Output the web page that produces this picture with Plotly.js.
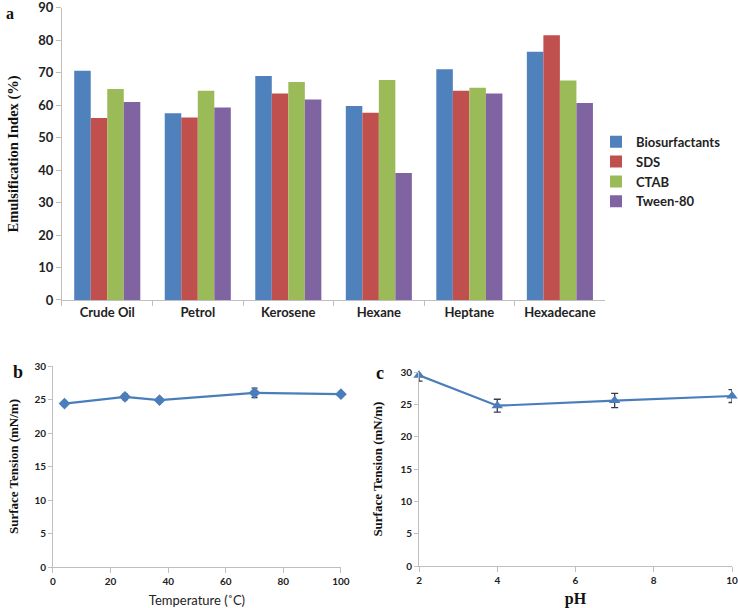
<!DOCTYPE html>
<html>
<head>
<meta charset="utf-8">
<script src="https://cdn.plot.ly/plotly-3.0.1.min.js"></script>
<style>html,body{margin:0;padding:0;background:#fff;}#chart{width:738px;height:608px;}</style>
</head>
<body>
<div id="chart"></div>
<script>
// ---- Data ----
const categories = ["Crude Oil", "Petrol", "Kerosene", "Hexane", "Heptane", "Hexadecane"];
const seriesNames = ["Biosurfactants", "SDS", "CTAB", "Tween-80"];
const biosurfactants = [70.6, 57.5, 69.0, 59.8, 71.1, 76.5];
const sds = [56.1, 56.2, 63.6, 57.7, 64.5, 81.6];
const ctab = [65.0, 64.5, 67.2, 67.8, 65.4, 67.6];
const tween80 = [61.0, 59.3, 61.8, 39.1, 63.6, 60.7];

const temperature = [4, 25, 37, 70, 100];
const tensionTemp = [24.4, 25.4, 24.9, 26.0, 25.8];
const tensionTempErr = [0.3, 0.4, 0.3, 0.7, 0.3];

const pH = [2, 4, 7, 10];
const tensionPH = [29.5, 24.8, 25.6, 26.3];
const tensionPHErr = [0.9, 1.0, 1.1, 1.0];

const barColors = ["#4F81BD", "#C0504D", "#9BBB59", "#8064A2"];
const lineColor = "#4A7EBB";
const sans = "Lato, 'Liberation Sans', sans-serif";
const serif = "'Liberation Serif', 'DejaVu Serif', serif";
const axisGray = "#bfbfbf";

const barSeries = [biosurfactants, sds, ctab, tween80];
const traces = barSeries.map((vals, i) => ({
  type: "bar", x: categories, y: vals, name: seriesNames[i],
  marker: {color: barColors[i]}, xaxis: "x", yaxis: "y"
}));

traces.push({
  type: "scatter", mode: "lines+markers", x: temperature, y: tensionTemp,
  error_y: {type: "data", array: tensionTempErr, visible: true, color: "#3a3a4a", thickness: 1.3, width: 3},
  line: {color: lineColor, width: 2.2}, marker: {symbol: "diamond", size: 9, color: lineColor},
  xaxis: "x2", yaxis: "y2", showlegend: false, cliponaxis: false
});
traces.push({
  type: "scatter", mode: "lines+markers", x: pH, y: tensionPH,
  error_y: {type: "data", array: tensionPHErr, visible: true, color: "#3a3a4a", thickness: 1.3, width: 3.5},
  line: {color: lineColor, width: 2.2}, marker: {symbol: "triangle-up", size: 10, color: lineColor},
  xaxis: "x3", yaxis: "y3", showlegend: false, cliponaxis: false
});

const tickFontBig = {family: sans, size: 13, color: "#222", weight: "bold"};
const tickFontSmall = {family: sans, size: 10, color: "#222", weight: "bold"};

const layout = {
  width: 738, height: 608,
  margin: {l: 0, r: 0, t: 0, b: 0},
  paper_bgcolor: "#fff", plot_bgcolor: "#fff",
  barmode: "group", bargap: 0.27, bargroupgap: 0,
  showlegend: true,
  legend: {x: 0.8076, y: 0.7916, xanchor: "left", yanchor: "top",
    font: {family: sans, size: 13, color: "#222", weight: "bold"},
    itemwidth: 30, tracegroupgap: 0, bgcolor: "rgba(0,0,0,0)"},
  xaxis: {domain: [0.084, 0.820], anchor: "y", range: [-0.5, 5.5], showline: true, linecolor: axisGray, linewidth: 1,
    ticks: "outside", tickson: "boundaries", ticklen: 5, tickcolor: axisGray,
    tickfont: tickFontBig, showgrid: false, zeroline: false, fixedrange: true},
  yaxis: {domain: [0.5066, 0.987], anchor: "x", range: [0, 90], dtick: 10, showline: true, linecolor: axisGray, linewidth: 1,
    ticks: "outside", ticklen: 5, tickcolor: axisGray, tickfont: tickFontBig, showgrid: false, zeroline: false,
    ticklabeloverflow: "allow",
    title: {text: "Emulsification Index (%)", font: {family: serif, size: 14.5, color: "#111", weight: "bold"}, standoff: 16}},
  xaxis2: {domain: [0.0718, 0.462], anchor: "y2", range: [0, 100], dtick: 20, showline: true, linecolor: axisGray,
    ticks: "outside", ticklen: 5, tickcolor: axisGray, tickfont: tickFontSmall, showgrid: false, zeroline: false,
    title: {text: "Temperature (˚C)", font: {family: sans, size: 13, color: "#222"}, standoff: 10}},
  yaxis2: {domain: [0.0674, 0.398], anchor: "x2", range: [0, 30], dtick: 5, showline: true, linecolor: axisGray,
    ticks: "outside", ticklen: 4, tickcolor: axisGray, tickfont: tickFontSmall, showgrid: false, zeroline: false,
    title: {text: "Surface Tension (mN/m)", font: {family: serif, size: 13, color: "#111", weight: "bold"}, standoff: 12}},
  xaxis3: {domain: [0.5678, 0.9919], anchor: "y3", range: [2, 10], dtick: 2, showline: true, linecolor: axisGray,
    ticks: "outside", ticklen: 5, tickcolor: axisGray, tickfont: tickFontSmall, showgrid: false, zeroline: false,
    ticklabeloverflow: "allow",
    title: {text: "pH", font: {family: serif, size: 16, color: "#111", weight: "bold"}, standoff: 8}},
  yaxis3: {domain: [0.069, 0.388], anchor: "x3", range: [0, 30], dtick: 5, showline: true, linecolor: axisGray,
    ticks: "outside", ticklen: 4, tickcolor: axisGray, tickfont: tickFontSmall, showgrid: false, zeroline: false,
    title: {text: "Surface Tension (mN/m)", font: {family: serif, size: 13, color: "#111", weight: "bold"}, standoff: 14}},
  annotations: [
    {text: "a", x: 4 / 738, y: 1 - 3 / 608, xref: "paper", yref: "paper", xanchor: "left", yanchor: "top",
      showarrow: false, font: {family: serif, size: 16, color: "#111", weight: "bold"}},
    {text: "b", x: 11 / 738, y: 1 - 360 / 608, xref: "paper", yref: "paper", xanchor: "left", yanchor: "top",
      showarrow: false, font: {family: serif, size: 18, color: "#111", weight: "bold"}},
    {text: "c", x: 374 / 738, y: 1 - 361 / 608, xref: "paper", yref: "paper", xanchor: "left", yanchor: "top",
      showarrow: false, font: {family: serif, size: 18, color: "#111", weight: "bold"}}
  ]
};

Plotly.newPlot("chart", traces, layout, {displayModeBar: false, staticPlot: true});
</script>
</body>
</html>
